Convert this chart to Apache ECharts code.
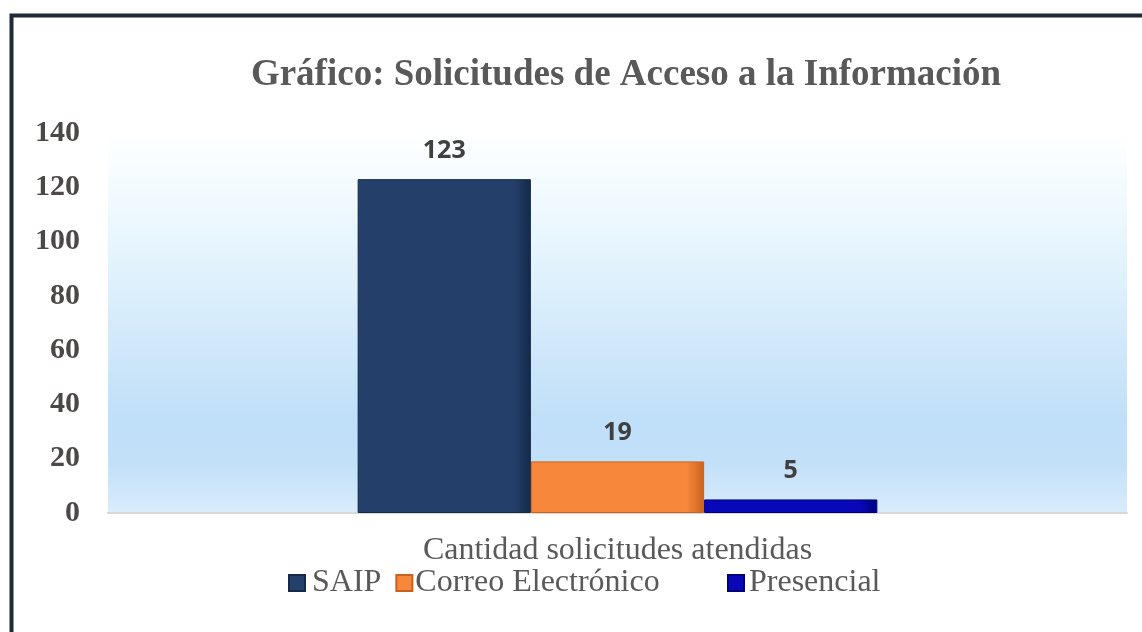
<!DOCTYPE html>
<html>
<head>
<meta charset="utf-8">
<script src="https://cdn.jsdelivr.net/npm/echarts@6/dist/echarts.min.js"></script>
<style>
  body { margin: 0; background: #fff; }
  #chart { width: 1142px; height: 632px; }
</style>
</head>
<body>
<div id="chart"></div>
<script>
// datos del gráfico
var categorias = ['Cantidad solicitudes atendidas'];
var saip = [123];
var correo = [19];
var presencial = [5];
var nombres = ['SAIP', 'Correo Electrónico', 'Presencial'];
var colores = ['#243f6a', '#f7873a', '#0808b8'];
var bordes = ['#152a4a', '#c9621c', '#00007a'];

var myChart = echarts.init(document.getElementById('chart'));

var serif = '"Liberation Serif", "DejaVu Serif", serif';

function serie(nombre, datos, i) {
    return {
        name: nombre,
        type: 'bar',
        data: datos,
        barGap: '0%',
        barCategoryGap: '49%',
        itemStyle: {
            color: {
                type: 'linear', x: 0, y: 0, x2: 1, y2: 0,
                colorStops: [
                    { offset: 0, color: colores[i] },
                    { offset: 0.9, color: colores[i] },
                    { offset: 1, color: bordes[i] }
                ]
            },
            borderColor: bordes[i],
            borderWidth: 1
        },
        label: {
            show: true,
            position: 'top',
            distance: 16,
            fontFamily: '"Open Sans", sans-serif',
            fontWeight: 'bold',
            fontSize: 25,
            color: '#404040'
        }
    };
}

// leyenda en dos bloques para respetar el espaciado del original
function leyenda(items, izq) {
    return {
        data: items,
        left: izq,
        top: 562,
        itemWidth: 16,
        itemHeight: 16,
        itemGap: 14,
        icon: 'rect',
        textStyle: {
            fontFamily: serif,
            fontSize: 32,
            color: '#595959'
        }
    };
}

var option = {
    backgroundColor: '#fff',
    title: {
        text: 'Gráfico: Solicitudes de Acceso a la Información',
        left: 621,
        textAlign: 'center',
        top: 52,
        textStyle: {
            fontFamily: serif,
            fontWeight: 'bold',
            fontSize: 37,
            color: '#595959'
        }
    },
    graphic: [{
        type: 'rect',
        shape: { x: 11.5, y: 15.5, width: 1200, height: 700 },
        style: { fill: 'none', stroke: '#1f2937', lineWidth: 4 },
        z: 100
    }],
    legend: [
        leyenda([
            { name: nombres[0], textStyle: { padding: [0, 0, 0, 2] } },
            { name: nombres[1], textStyle: { padding: [0, 0, 0, -2] } }
        ], 283),
        leyenda([
            { name: nombres[2], textStyle: { padding: [0, 0, 0, 0] } }
        ], 722)
    ],
    grid: {
        left: 108,
        right: 15,
        top: 133,
        bottom: 119,
        show: true,
        borderWidth: 0,
        backgroundColor: {
            type: 'linear', x: 0, y: 0, x2: 0, y2: 1,
            colorStops: [
                { offset: 0, color: '#ffffff' },
                { offset: 0.08, color: '#f8fdff' },
                { offset: 0.3, color: '#e6f5fd' },
                { offset: 0.75, color: '#c0dff8' },
                { offset: 0.87, color: '#c3e0f9' },
                { offset: 1, color: '#d9ecfc' }
            ]
        }
    },
    xAxis: {
        type: 'category',
        data: categorias,
        axisLine: { lineStyle: { color: '#d9d9d9', width: 2 } },
        axisTick: { show: false },
        axisLabel: {
            margin: 22,
            fontFamily: serif,
            fontSize: 32,
            color: '#595959'
        }
    },
    yAxis: {
        type: 'value',
        min: 0,
        max: 140,
        interval: 20,
        splitLine: { show: false },
        axisLine: { show: false },
        axisTick: { show: false },
        axisLabel: {
            margin: 28,
            fontFamily: serif,
            fontWeight: 'bold',
            fontSize: 30,
            color: '#4d4848'
        }
    },
    series: [
        serie(nombres[0], saip, 0),
        serie(nombres[1], correo, 1),
        serie(nombres[2], presencial, 2)
    ]
};

myChart.setOption(option);
</script>
</body>
</html>
